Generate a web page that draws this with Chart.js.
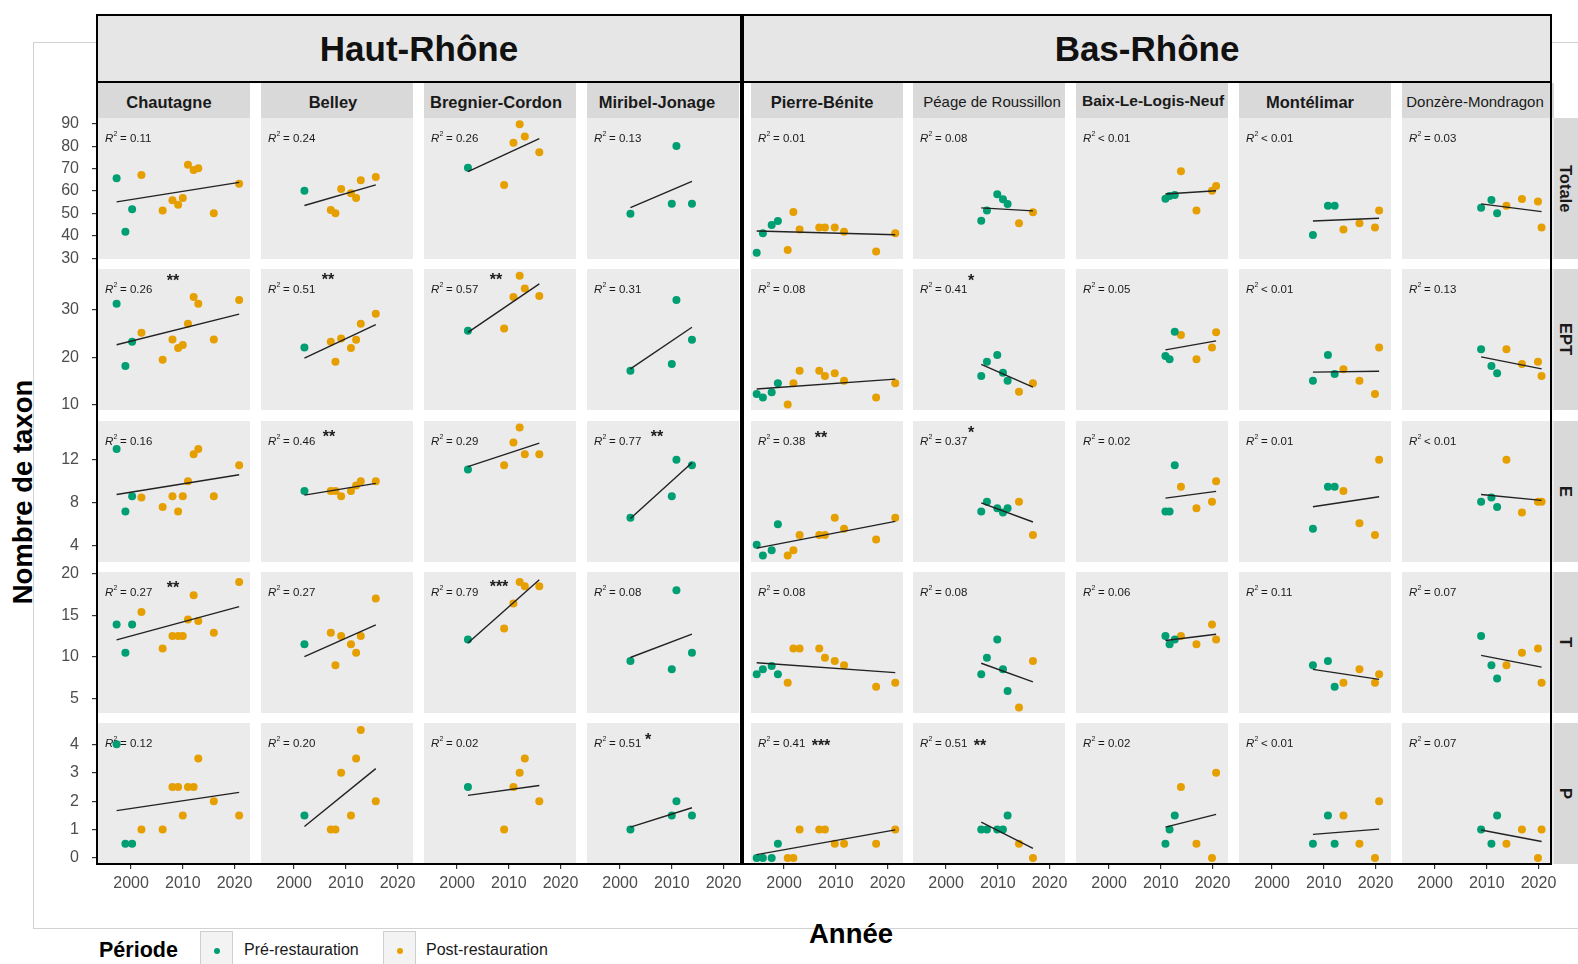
<!DOCTYPE html>
<html lang="fr">
<head>
<meta charset="utf-8">
<title>Nombre de taxon par année</title>
<script src="https://cdn.jsdelivr.net/npm/chart.js@4.4.1/dist/chart.umd.min.js"></script>
<style>
  body { margin: 0; background: #fff; font-family: "Liberation Sans", Arial, sans-serif; }
  #page { position: relative; width: 1578px; height: 964px; overflow: hidden; background: #fff; }
  .outer { position: absolute; left: 33px; top: 42px; width: 1600px; height: 887px; border: 1px solid #d2d2d2; box-sizing: border-box; }
  .frame { position: absolute; border: 2px solid #000; box-sizing: border-box; z-index: 5; pointer-events: none; }
  .group { position: absolute; top: 14px; height: 69px; background: #e6e6e6; border: 2px solid #000; box-sizing: border-box;
           display: flex; align-items: center; justify-content: center; font-weight: bold; font-size: 35px; color: #111; z-index: 4; }
  .colstrip { position: absolute; top: 83px; height: 35px; width: 152px; background: #d9d9d9; box-sizing: border-box; padding-top: 3px;
              display: flex; align-items: center; justify-content: center; font-weight: bold; font-size: 16.5px; color: #1a1a1a; white-space: nowrap; }
  .colstrip span { position: relative; }
  .rowstrip { position: absolute; left: 1552px; width: 26px; height: 141px; background: #d9d9d9; writing-mode: vertical-rl;
              display: flex; align-items: center; justify-content: center; font-weight: bold; font-size: 16.5px; color: #1a1a1a; }
  .ytitle { position: absolute; left: 23px; top: 492px; transform: translate(-50%, -50%) rotate(-90deg); font-weight: bold; font-size: 27.5px; color: #000; white-space: nowrap; }
  .xtitle { position: absolute; left: 851px; top: 934px; transform: translate(-50%, -50%); font-weight: bold; font-size: 27.5px; color: #000; white-space: nowrap; }
  .legtitle { position: absolute; left: 99px; top: 950px; transform: translateY(-50%); font-weight: bold; font-size: 21.5px; color: #000; }
  .key { position: absolute; top: 931px; width: 33px; height: 40px; background: #f3f3f3; border: 1px solid #cfcfcf; box-sizing: border-box; }
  .key i { position: absolute; left: 50%; top: 19px; width: 6px; height: 6px; margin-left: -3px; margin-top: -3px; border-radius: 50%; }
  .leglabel { position: absolute; top: 950px; transform: translateY(-50%); font-size: 16px; color: #1a1a1a; white-space: nowrap; }
</style>
</head>
<body>
<div id="page">
  <div class="outer"></div>
  <div class="group" style="left:96px;width:646px">Haut-Rhône</div>
  <div class="group" style="left:742px;width:810px">Bas-Rhône</div>
  <div class="frame" style="left:96px;top:14px;width:646px;height:851px"></div>
  <div class="frame" style="left:742px;top:14px;width:810px;height:851px"></div>
  <div class="ytitle">Nombre de taxon</div>
  <div class="xtitle">Année</div>
  <div class="legtitle">Période</div>
  <div class="key" style="left:200px"><i style="background:#009E73"></i></div>
  <div class="leglabel" style="left:244px">Pré-restauration</div>
  <div class="key" style="left:383px"><i style="background:#E69F00"></i></div>
  <div class="leglabel" style="left:426px">Post-restauration</div>
</div>
<script>
const sites = ['Chautagne', 'Belley', 'Bregnier-Cordon', 'Miribel-Jonage', 'Pierre-Bénite',
  'Péage de Roussillon', 'Baix-Le-Logis-Neuf', 'Montélimar', 'Donzère-Mondragon'];
const metrics = ['Totale', 'EPT', 'E', 'T', 'P'];

// sampling years per site, before / after restoration
const preYears = [
  [1997.2, 1998.9, 2000.2],
  [2002.0],
  [2002.1],
  [2002.0, 2010.0, 2010.9, 2013.9],
  [1994.7, 1995.9, 1997.6, 1998.8],
  [2006.8, 2007.9, 2009.9, 2011.0, 2011.9],
  [2010.9, 2011.7, 2012.7],
  [2007.9, 2010.8, 2012.1],
  [2008.9, 2010.9, 2012.0]
];
const postYears = [
  [2002.0, 2006.1, 2008.0, 2009.1, 2010.0, 2011.0, 2012.1, 2013.0, 2016.0, 2020.9],
  [2007.1, 2008.0, 2009.1, 2011.0, 2012.0, 2012.9, 2015.8],
  [2009.1, 2010.9, 2012.1, 2013.1, 2015.9],
  [],
  [2000.7, 2001.8, 2003.0, 2006.8, 2007.9, 2009.8, 2011.6, 2017.8, 2021.5],
  [2014.1, 2016.8],
  [2013.9, 2016.9, 2019.9, 2020.7],
  [2013.8, 2016.9, 2019.9, 2020.7],
  [2013.8, 2016.8, 2019.9, 2020.6]
];

// taxa counts, same order as the years above
const totalePre = [[65.7, 41.9, 51.9], [60.2], [70.4], [49.9, 54.4, 80.1, 54.4], [32.5, 41.2, 44.9, 46.7],
  [46.8, 51.3, 58.6, 56.3, 54.2], [56.6, 57.8, 58.3], [40.4, 53.5, 53.5], [52.6, 56.0, 50.1]];
const totalePost = [[67.2, 51.3, 55.9, 53.9, 56.9, 71.7, 69.4, 70.2, 50.1, 63.3], [51.6, 50.1, 60.9, 59.0, 56.9, 64.8, 66.3],
  [62.7, 81.6, 89.8, 84.3, 77.3], [], [33.7, 50.7, 42.9, 43.7, 43.7, 43.7, 41.9, 33.0, 41.2],
  [45.6, 50.5], [68.8, 51.3, 60.2, 62.3], [42.9, 45.6, 43.8, 51.3], [53.5, 56.5, 55.4, 43.8]];

const eptPre = [[31.3, 18.2, 23.3], [22.1], [25.6], [17.2, 18.6, 32.1, 23.7], [12.3, 11.6, 12.7, 14.6],
  [16.1, 19.1, 20.5, 16.8, 15.1], [20.3, 19.6, 25.4], [15.1, 20.5, 16.5], [21.7, 18.2, 16.7]];
const eptPost = [[25.2, 19.5, 23.8, 22.0, 22.6, 27.1, 32.7, 31.3, 23.8, 32.1], [23.3, 19.1, 24.0, 22.0, 23.7, 27.1, 29.2],
  [26.1, 32.7, 37.2, 34.5, 32.9], [], [10.1, 14.6, 17.2, 17.2, 16.1, 16.7, 15.1, 11.6, 14.6],
  [12.8, 14.6], [24.7, 19.6, 22.1, 25.3], [17.5, 15.1, 12.3, 22.1], [21.7, 18.6, 19.1, 16.1]];

const ePre = [[13.0, 7.2, 8.6], [9.1], [11.1], [6.6, 8.6, 12.0, 11.5], [4.1, 3.1, 3.6, 6.0],
  [7.2, 8.1, 7.5, 7.1, 7.5], [7.2, 7.2, 11.5], [5.6, 9.5, 9.5], [8.1, 8.5, 7.6]];
const ePost = [[8.5, 7.6, 8.6, 7.2, 8.6, 10.0, 12.5, 13.0, 8.6, 11.5], [9.1, 9.1, 8.6, 9.1, 9.6, 10.0, 10.0],
  [11.5, 13.6, 15.0, 12.5, 12.5], [], [3.1, 3.6, 5.0, 5.0, 5.0, 6.6, 5.6, 4.6, 6.6],
  [8.1, 5.0], [9.5, 7.5, 8.1, 10.0], [9.1, 6.1, 5.0, 12.0], [12.0, 7.1, 8.1, 8.1]];

const tPre = [[13.9, 10.5, 13.9], [11.5], [12.1], [9.5, 8.5, 18.0, 10.5], [7.9, 8.5, 8.9, 7.9],
  [7.9, 9.9, 12.1, 8.5, 5.9], [12.5, 11.5, 12.1], [9.0, 9.5, 6.4], [12.5, 9.0, 7.4]];
const tPost = [[15.4, 11.0, 12.5, 12.5, 12.5, 14.5, 17.4, 14.3, 12.9, 19.0], [12.9, 9.0, 12.5, 11.5, 10.5, 12.5, 17.0],
  [13.4, 16.4, 19.0, 18.5, 18.5], [], [6.9, 11.0, 11.0, 11.0, 9.9, 9.5, 9.0, 6.4, 6.9],
  [3.9, 9.5], [12.5, 11.5, 13.9, 12.1], [6.9, 8.5, 6.9, 7.9], [9.0, 10.5, 11.0, 6.9]];

const pPre = [[4.0, 0.5, 0.5], [1.5], [2.5], [1.0, 1.5, 2.0, 1.5], [0, 0, 0, 0.5],
  [1.0, 1.0, 1.0, 1.0, 1.5], [0.5, 1.0, 1.5], [0.5, 1.5, 0.5], [1.0, 0.5, 1.5]];
const pPost = [[1.0, 1.0, 2.5, 2.5, 1.5, 2.5, 2.5, 3.5, 2.0, 1.5], [1.0, 1.0, 3.0, 1.5, 3.5, 4.5, 2.0],
  [1.0, 2.5, 3.0, 3.5, 2.0], [], [0, 0, 1.0, 1.0, 1.0, 0.5, 0.5, 0.5, 1.0],
  [0.5, 0], [2.5, 0.5, 0, 3.0], [1.5, 0.5, 0, 2.0], [0.5, 1.0, 0, 1.0]];

const r2Labels = [
  ['= 0.11', '= 0.24', '= 0.26', '= 0.13', '= 0.01', '= 0.08', '< 0.01', '< 0.01', '= 0.03'],
  ['= 0.26', '= 0.51', '= 0.57', '= 0.31', '= 0.08', '= 0.41', '= 0.05', '< 0.01', '= 0.13'],
  ['= 0.16', '= 0.46', '= 0.29', '= 0.77', '= 0.38', '= 0.37', '= 0.02', '= 0.01', '< 0.01'],
  ['= 0.27', '= 0.27', '= 0.79', '= 0.08', '= 0.08', '= 0.08', '= 0.06', '= 0.11', '= 0.07'],
  ['= 0.12', '= 0.20', '= 0.02', '= 0.51', '= 0.41', '= 0.51', '= 0.02', '< 0.01', '= 0.07']
];
const stars = [
  ['', '', '', '', '', '', '', '', ''],
  ['**', '**', '**', '', '', '*', '', '', ''],
  ['', '**', '', '**', '**', '*', '', '', ''],
  ['**', '', '***', '', '', '', '', '', ''],
  ['', '', '', '*', '***', '**', '', '', '']
];

const xTicks = [2000, 2010, 2020];
const yTicks = [[30, 40, 50, 60, 70, 80, 90], [10, 20, 30], [4, 8, 12], [5, 10, 15, 20], [0, 1, 2, 3, 4]];
const yLimits = [[29.7, 92.6], [8.95, 38.6], [2.5, 15.6], [3.25, 20.2], [-0.21, 4.75]];
const xLimits = [1993.6, 2023.0];

// layout
const rowTops = [118, 269, 421, 572, 723];
const colLefts = [98, 261, 424, 587, 751, 913, 1076, 1239, 1402];
const panelW = 152, panelH = 141, margin = 10, yAxisW = 60, xAxisH = 30;
const stripShift = [-5, -4, -4, -6, -5, 3, 1, -5, -3];
// star label placement inside a panel: [dx, dy] from the panel's top-left corner
const starPos = {
  '1-0': [75, 8], '1-1': [67, 7], '1-2': [72, 7], '1-5': [58, 8],
  '2-1': [68, 12], '2-3': [70, 12], '2-4': [70, 13], '2-5': [58, 8],
  '3-0': [75, 12], '3-2': [75, 11],
  '4-3': [61, 13], '4-4': [70, 19], '4-5': [67, 19]
};

const PRE = '#009E73', POST = '#E69F00';
const FONT = '"Liberation Sans", Arial, sans-serif';
Chart.defaults.font.family = FONT;

const rowPre = [totalePre, eptPre, ePre, tPre, pPre];
const rowPost = [totalePost, eptPost, ePost, tPost, pPost];

function toPoints(xs, ys) {
  return xs.map((x, i) => ({ x: x, y: ys[i] }));
}

// least squares line over the site's sampling range
function fitLine(xs, ys) {
  const n = xs.length;
  const mx = xs.reduce((s, v) => s + v, 0) / n;
  const my = ys.reduce((s, v) => s + v, 0) / n;
  let sxy = 0, sxx = 0;
  xs.forEach((x, i) => {
    sxy += (x - mx) * (ys[i] - my);
    sxx += (x - mx) * (x - mx);
  });
  const b = sxy / sxx;
  const x0 = Math.min(...xs), x1 = Math.max(...xs);
  return [{ x: x0, y: my + b * (x0 - mx) }, { x: x1, y: my + b * (x1 - mx) }];
}

function panelDecor(r, c) {
  return {
    id: 'panelDecor',
    beforeDraw(chart) {
      const a = chart.chartArea, ctx = chart.ctx;
      ctx.save();
      ctx.fillStyle = '#ebebeb';
      ctx.fillRect(a.left, a.top, a.right - a.left, a.bottom - a.top);
      ctx.restore();
    },
    afterDatasetsDraw(chart) {
      const a = chart.chartArea, ctx = chart.ctx;
      const x = a.left + 7, y = a.top + 24;
      ctx.save();
      ctx.fillStyle = '#1a1a1a';
      ctx.textAlign = 'left';
      ctx.textBaseline = 'alphabetic';
      ctx.font = 'italic 11.5px ' + FONT;
      ctx.fillText('R', x, y);
      ctx.font = '7px ' + FONT;
      ctx.fillText('2', x + 8.5, y - 6);
      ctx.font = '11.5px ' + FONT;
      ctx.fillText(r2Labels[r][c], x + 15, y);
      const s = stars[r][c];
      if (s) {
        const p = starPos[r + '-' + c];
        ctx.font = 'bold 16px ' + FONT;
        ctx.textAlign = 'center';
        ctx.fillText(s, a.left + p[0], a.top + p[1] + 9);
      }
      ctx.restore();
    }
  };
}

const page = document.getElementById('page');

// column strips
sites.forEach((name, c) => {
  const d = document.createElement('div');
  d.className = 'colstrip';
  d.style.left = colLefts[c] + 'px';
  if (c === 5 || c === 8) { d.style.fontWeight = 'normal'; d.style.fontSize = '15px'; d.style.paddingTop = '1px'; }
  if (c === 6) { d.style.fontSize = '15.5px'; d.style.paddingTop = '0'; }
  const s = document.createElement('span');
  s.style.left = stripShift[c] + 'px';
  s.textContent = name;
  d.appendChild(s);
  page.appendChild(d);
});

// row strips
metrics.forEach((m, r) => {
  const d = document.createElement('div');
  d.className = 'rowstrip';
  d.style.top = rowTops[r] + 'px';
  d.textContent = m;
  page.appendChild(d);
});

metrics.forEach((m, r) => {
  sites.forEach((site, c) => {
    const firstCol = c === 0;
    const lastRow = r === metrics.length - 1;
    const w = panelW + 2 * margin + (firstCol ? yAxisW : 0);
    const h = panelH + 2 * margin + (lastRow ? xAxisH : 0);
    const cv = document.createElement('canvas');
    cv.width = w;
    cv.height = h;
    cv.style.position = 'absolute';
    cv.style.left = (colLefts[c] - margin - (firstCol ? yAxisW : 0)) + 'px';
    cv.style.top = (rowTops[r] - margin) + 'px';
    cv.style.zIndex = 1;
    page.appendChild(cv);

    const pre = rowPre[r][c], post = rowPost[r][c];
    const allX = preYears[c].concat(postYears[c]);
    const allY = pre.concat(post);

    new Chart(cv, {
      type: 'scatter',
      data: {
        datasets: [
          { data: fitLine(allX, allY), showLine: true, borderColor: '#222', borderWidth: 1.4, pointRadius: 0, order: 0 },
          { data: toPoints(preYears[c], pre), pointBackgroundColor: PRE, pointBorderWidth: 0, pointRadius: 4, order: 1 },
          { data: toPoints(postYears[c], post), pointBackgroundColor: POST, pointBorderWidth: 0, pointRadius: 4, order: 1 }
        ]
      },
      options: {
        responsive: false,
        devicePixelRatio: 1,
        animation: false,
        events: [],
        layout: { padding: margin },
        plugins: { legend: { display: false }, tooltip: { enabled: false } },
        scales: {
          x: {
            type: 'linear',
            min: xLimits[0],
            max: xLimits[1],
            display: lastRow,
            afterBuildTicks: s => { s.ticks = xTicks.map(v => ({ value: v })); },
            afterFit: s => {
              if (!lastRow) return;
              s.height = xAxisH; s.paddingLeft = 0; s.paddingRight = 0;
            },
            border: { display: false },
            grid: { drawOnChartArea: false, drawTicks: true, tickLength: 5, color: '#333', lineWidth: 1.2 },
            ticks: { color: '#4d4d4d', font: { size: 16 }, padding: 5, autoSkip: false, maxRotation: 0, callback: v => String(v) }
          },
          y: {
            type: 'linear',
            min: yLimits[r][0],
            max: yLimits[r][1],
            display: firstCol,
            afterBuildTicks: s => { s.ticks = yTicks[r].map(v => ({ value: v })); },
            afterFit: s => {
              if (!firstCol) return;
              s.width = yAxisW; s.paddingTop = 0; s.paddingBottom = 0;
            },
            border: { display: false },
            grid: { drawOnChartArea: false, drawTicks: true, tickLength: 6, color: '#333', lineWidth: 1.2 },
            ticks: { color: '#4d4d4d', font: { size: 16 }, padding: 13, callback: v => String(v) }
          }
        }
      },
      plugins: [panelDecor(r, c)]
    });
  });
});
</script>
</body>
</html>
